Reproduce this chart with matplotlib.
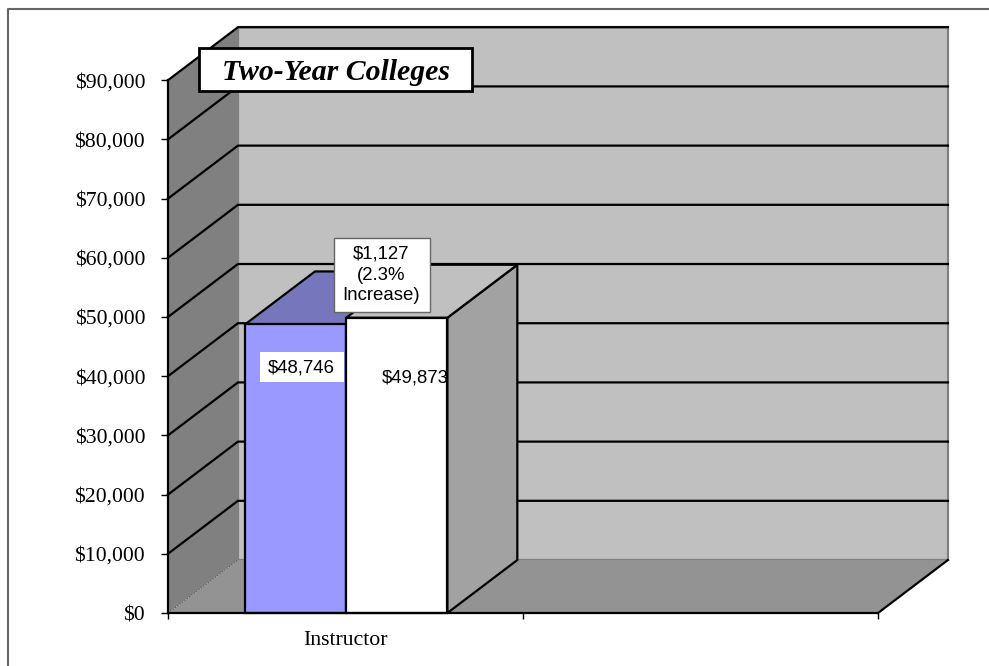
import matplotlib
matplotlib.use('Agg')
import matplotlib.pyplot as plt
from matplotlib.patches import Polygon, Rectangle

categories = ['Instructor', '']
year1 = [48746]
year2 = [49873]
y_ticks = [0, 10000, 20000, 30000, 40000, 50000, 60000, 70000, 80000, 90000]
y_labels = ['$0', '$10,000', '$20,000', '$30,000', '$40,000', '$50,000',
            '$60,000', '$70,000', '$80,000', '$90,000']
chart_title = 'Two-Year Colleges'
change_note = '$1,127\n(2.3%\nIncrease)'

# 3d look: how far the back wall is shifted, in data units
DX = 0.197
DY = 8950
BAR_W = 0.285
BAR_START = 0.217
LW = 1.6


def box3d(ax, x0, x1, h, front, top, side):
    ax.add_patch(Polygon([(x1, 0), (x1 + DX, DY), (x1 + DX, h + DY), (x1, h)],
                         fc=side, ec='black', lw=LW, clip_on=False, zorder=3))
    ax.add_patch(Polygon([(x0, h), (x0 + DX, h + DY), (x1 + DX, h + DY), (x1, h)],
                         fc=top, ec='black', lw=LW, clip_on=False, zorder=3))
    ax.add_patch(Rectangle((x0, 0), x1 - x0, h, fc=front, ec='black', lw=LW,
                           clip_on=False, zorder=3))


fig = plt.figure(figsize=(9.89, 6.66), dpi=100)
ax = fig.add_axes([168 / 989, 53 / 666, 710 / 989, 532.8 / 666])
ax.set_xlim(0, 2)
ax.set_ylim(0, 90000)
ax.patch.set_visible(False)

top = y_ticks[-1]
# walls and floor
ax.add_patch(Polygon([(DX, DY), (DX, top + DY), (2 + DX, top + DY), (2 + DX, DY)],
                     fc='#c0c0c0', ec='#808080', lw=LW, clip_on=False, zorder=1))
ax.add_patch(Polygon([(0, 0), (0, top), (DX, top + DY), (DX, DY)],
                     fc='#808080', ec='none', clip_on=False, zorder=1))
ax.add_patch(Polygon([(0, 0), (DX, DY), (2 + DX, DY), (2, 0)],
                     fc='#939393', ec='none', clip_on=False, zorder=1))

# gridlines run along side wall then back wall
for v in y_ticks[1:]:
    ax.plot([0, DX, 2 + DX], [v, v + DY, v + DY], color='black', lw=LW,
            clip_on=False, zorder=2)
ax.plot([0, DX], [0, DY], color='#555555', lw=0.8, ls=':', clip_on=False, zorder=2)
ax.plot([2, 2 + DX], [0, DY], color='black', lw=LW, clip_on=False, zorder=2)

box3d(ax, BAR_START, BAR_START + BAR_W, year1[0], '#9999ff', '#7676bc', '#7676bc')
box3d(ax, BAR_START + BAR_W, BAR_START + 2 * BAR_W, year2[0], 'white', '#c0c0c0', '#a2a2a2')

for s in ['top', 'right']:
    ax.spines[s].set_visible(False)
for s in ['left', 'bottom']:
    ax.spines[s].set_linewidth(LW)
    ax.spines[s].set_zorder(4)

ax.set_yticks(y_ticks)
ax.set_yticklabels(y_labels, family='Liberation Serif', fontsize=15.7)
ax.tick_params(axis='y', length=5, width=1, pad=11.5)
ax.set_xticks([0, 1, 2])
ax.set_xticklabels(['', '', ''])
ax.set_xticks([0.5, 1.5], minor=True)
ax.set_xticklabels(categories, minor=True, family='Liberation Serif', fontsize=15.7)
ax.tick_params(axis='x', which='major', length=4, width=1)
ax.tick_params(axis='x', which='minor', length=0, pad=13)

# overlay in pixels for the frame and the pasted-on boxes
over = fig.add_axes([0, 0, 1, 1], zorder=5)
over.set_xlim(0, 989)
over.set_ylim(666, 0)
over.axis('off')
over.patch.set_visible(False)
over.plot([7.5, 7.5, 989], [666, 9, 9], color='#666666', lw=1.5)
over.add_patch(Rectangle((199, 48), 273, 43, fc='white', ec='black', lw=2))
over.text(336, 72, chart_title, family='Liberation Serif', fontsize=21.4, weight='bold',
          style='italic', ha='center', va='center')
over.add_patch(Rectangle((333.5, 238), 96, 74, fc='white', ec='#666666', lw=1))
over.text(381.5, 275, change_note, family='Liberation Sans', fontsize=13.4, ha='center',
          va='center', linespacing=1.28)
over.add_patch(Rectangle((260, 352), 84, 30, fc='white', ec='none'))
over.text(301.5, 368, '$48,746', family='Liberation Sans', fontsize=13.4, ha='center', va='center')
over.text(415, 378, '$49,873', family='Liberation Sans', fontsize=13.4, ha='center', va='center')

fig.savefig('out.png', dpi=100)
